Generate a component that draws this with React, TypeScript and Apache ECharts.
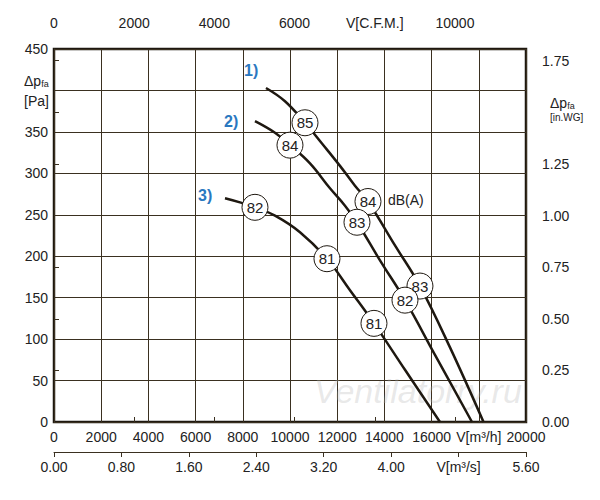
import { useEffect, useRef } from "react";
import * as echarts from "echarts";

const curve1 = [[8982, 403], [9787, 387], [10635, 361], [11355, 336], [12118, 309], [12753, 285], [13304, 266], [14448, 213], [15507, 164], [16779, 90], [18200, 0]];
const curve2 = [[8516, 363], [9364, 349], [9999, 334], [10847, 312], [11694, 282], [12330, 261], [12838, 241], [13813, 195], [14872, 147], [16143, 81], [17711, 0]];
const curve3 = [[7245, 270], [7881, 265], [8516, 259], [9364, 249], [10423, 229], [11567, 197], [12542, 159], [13558, 119], [14872, 63], [16355, 0]];
const soundPoints = [
  [10635, 361, "85"], [13304, 266, "84"], [15507, 164, "83"],
  [9999, 334, "84"], [12838, 241, "83"], [14872, 147, "82"],
  [8516, 259, "82"], [11567, 197, "81"], [13558, 119, "81"],
];
const curveLabels = ["1)", "2)", "3)"];

const FONT = "Liberation Sans, Arial, sans-serif";
const TXT = "#222";

export default function App() {
  const ref = useRef<HTMLDivElement>(null);

  useEffect(() => {
    if (!ref.current) return;
    const chart = echarts.init(ref.current, null, { renderer: "svg" });
    const label = { color: TXT, fontSize: 14, fontFamily: FONT };
    const thinLine = { show: true, lineStyle: { color: "#3a3020", width: 1 } };
    const line = (data: number[][]) => ({
      type: "line", data, smooth: 0.4, showSymbol: false, xAxisIndex: 0, yAxisIndex: 0,
      lineStyle: { color: "#1e1810", width: 2.5 }, z: 3,
    });
    chart.setOption({
      animation: false,
      textStyle: { fontFamily: FONT },
      grid: { left: 54, right: 74, top: 49, bottom: 78, show: true, borderColor: "#1e1810", borderWidth: 2.5 },
      xAxis: [
        {
          type: "value", min: 0, max: 20000, interval: 2000, position: "bottom",
          axisLine: { show: false }, axisTick: { show: false },
          axisLabel: { ...label, margin: 8, formatter: (v: number) => (v === 18000 ? "V[m³/h]" : String(v)) },
          splitLine: { lineStyle: { color: "#3a3020", width: 1 } },
        },
        {
          type: "value", min: 0, max: 11772, interval: 2000, position: "top", offset: 15,
          axisLine: thinLine, axisTick: { show: true, inside: false, length: 5, lineStyle: { color: "#3a3020" } },
          axisLabel: { ...label, margin: 4, showMaxLabel: false, formatter: (v: number) => (v === 8000 ? "V[C.F.M.]" : String(v)) },
          splitLine: { show: false },
        },
        {
          type: "value", min: 0, max: 5.6, interval: 0.8, position: "bottom", offset: 30,
          axisLine: thinLine, axisTick: { show: true, length: 5, lineStyle: { color: "#3a3020" } },
          axisLabel: { ...label, margin: 8, formatter: (v: number) => (Math.abs(v - 4.8) < 0.01 ? "V[m³/s]" : v.toFixed(2)) },
          splitLine: { show: false },
        },
      ],
      yAxis: [
        {
          type: "value", min: 0, max: 450, interval: 50, position: "left",
          axisLine: { show: false }, axisTick: { show: false },
          axisLabel: { ...label, margin: 6, formatter: (v: number) => (v === 400 ? "" : String(v)) },
          splitLine: { lineStyle: { color: "#3a3020", width: 1 } },
        },
        {
          type: "value", min: 0, max: 1.8066, interval: 0.25, position: "right", offset: 10,
          axisLine: thinLine, axisTick: { show: true, length: 5, lineStyle: { color: "#3a3020" } },
          axisLabel: { ...label, margin: 6, showMaxLabel: false, formatter: (v: number) => (Math.abs(v - 1.5) < 0.01 ? "" : v.toFixed(2)) },
          splitLine: { show: false },
        },
      ],
      series: [
        line(curve1), line(curve2), line(curve3),
        {
          type: "scatter", data: soundPoints, xAxisIndex: 0, yAxisIndex: 0, z: 5,
          symbol: "circle", symbolSize: 26,
          itemStyle: { color: "#fff", borderColor: "#1e1810", borderWidth: 1, opacity: 1 },
          label: { show: true, position: "inside", formatter: (p: any) => p.value[2], color: TXT, fontSize: 15, fontFamily: FONT },
        },
      ],
      graphic: [
        { type: "text", left: 244, top: 62, style: { text: curveLabels[0], fill: "#2a78c0", font: `bold 16px ${FONT}` } },
        { type: "text", left: 224, top: 113, style: { text: curveLabels[1], fill: "#2a78c0", font: `bold 16px ${FONT}` } },
        { type: "text", left: 198, top: 187, style: { text: curveLabels[2], fill: "#2a78c0", font: `bold 16px ${FONT}` } },
        { type: "text", left: 388, top: 193, style: { text: "dB(A)", fill: TXT, font: `14px ${FONT}` } },
        {
          type: "text", left: 24, top: 74,
          style: {
            text: "{a|Δp}{s|fa}\n{a|[Pa]}", fill: TXT, align: "left",
            rich: { a: { fontSize: 14, fontFamily: FONT, fill: TXT, lineHeight: 20 }, s: { fontSize: 9, fontFamily: FONT, fill: TXT, padding: [6, 0, 0, 0] } },
          },
        },
        {
          type: "text", left: 550, top: 96,
          style: {
            text: "{a|Δp}{s|fa}\n{b|[in.WG]}", fill: TXT,
            rich: { a: { fontSize: 14, fontFamily: FONT, fill: TXT, lineHeight: 18 }, s: { fontSize: 9, fontFamily: FONT, fill: TXT, padding: [6, 0, 0, 0] }, b: { fontSize: 10, fontFamily: FONT, fill: TXT } },
          },
        },
        {
          type: "text", left: 314, top: 374, z: 1,
          style: { text: "Ventilatorry.ru", fill: "rgba(180,180,180,0.3)", font: `italic 34px ${FONT}` },
        },
      ],
    });
    return () => chart.dispose();
  }, []);

  return <div ref={ref} style={{ width: 600, height: 500, margin: -8 }} />;
}
